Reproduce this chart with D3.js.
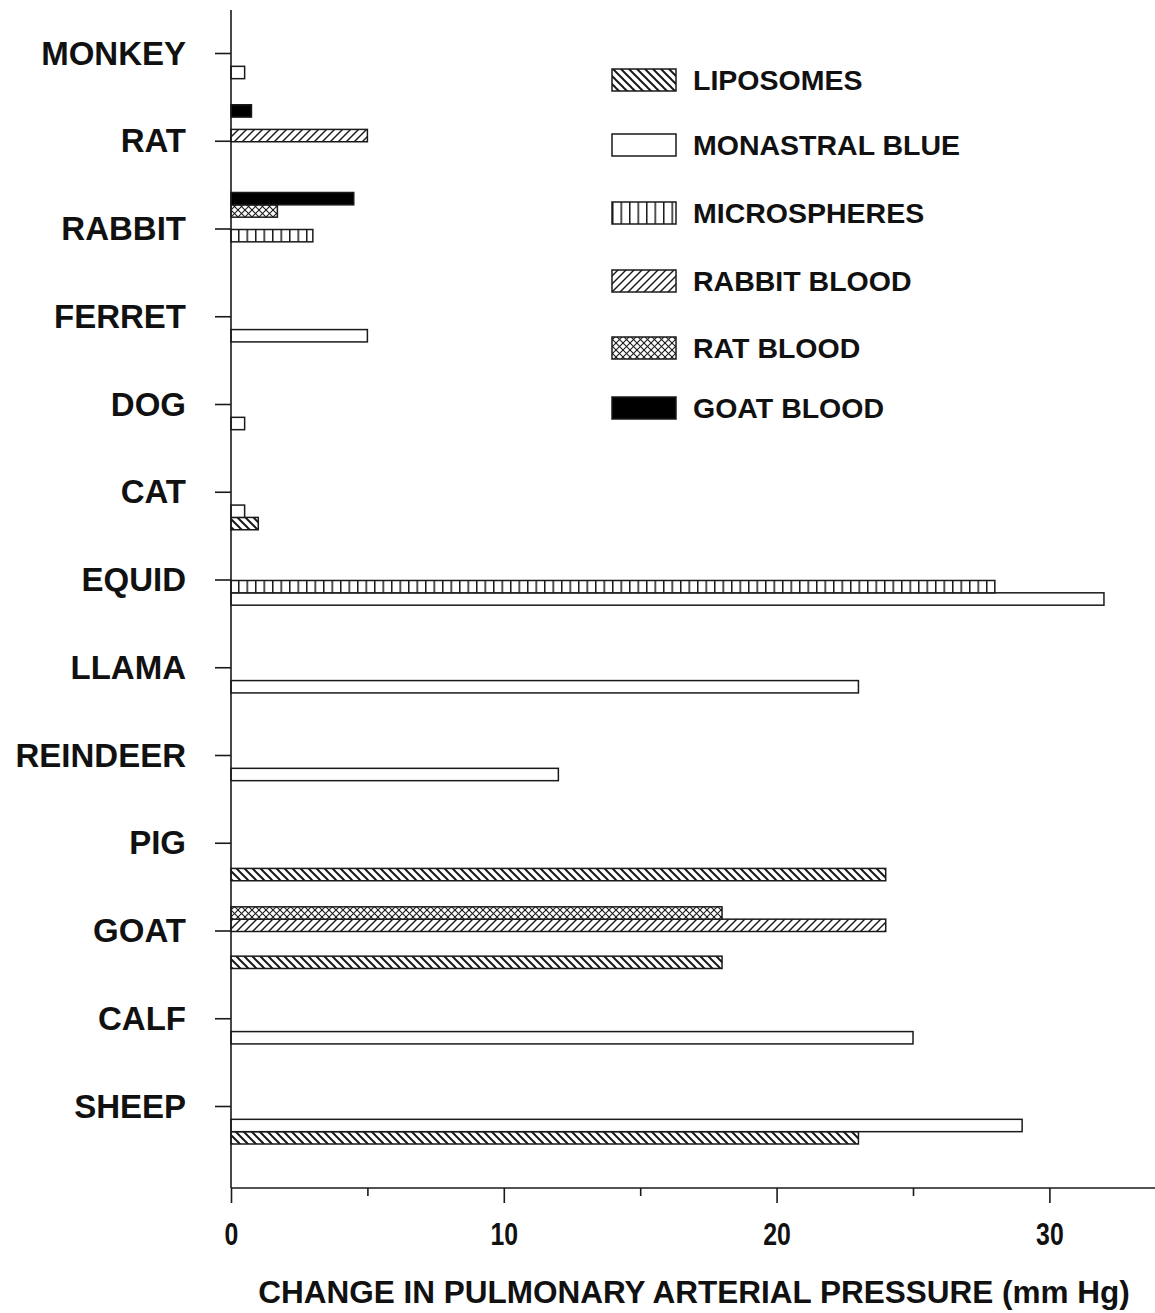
<!DOCTYPE html>
<html>
<head>
<meta charset="utf-8">
<script src="https://cdn.jsdelivr.net/npm/d3@7"></script>
<style>
  html, body { margin: 0; padding: 0; background: #fff; }
  svg { display: block; font-family: "Liberation Sans", Arial, Helvetica, sans-serif; font-weight: bold; }
</style>
</head>
<body>
<svg id="chart" width="1155" height="1313"></svg>
<script>
// ---- data ----
const categories = ["MONKEY","RAT","RABBIT","FERRET","DOG","CAT","EQUID","LLAMA","REINDEER","PIG","GOAT","CALF","SHEEP"];
const seriesNames = ["LIPOSOMES","MONASTRAL BLUE","MICROSPHERES","RABBIT BLOOD","RAT BLOOD","GOAT BLOOD"];
const liposomes    = [null, null, null, null, null, 1,   null, null, null, 24,   18,   null, 23];
const monastral    = [0.5,  null, null, 5,    0.5,  0.5, 32,   23,   12,   null, null, 25,   29];
const microspheres = [null, null, 3,    null, null, null, 28,  null, null, null, null, null, null];
const rabbitBlood  = [null, 5,    null, null, null, null, null, null, null, null, 24,  null, null];
const ratBlood     = [null, null, 1.7,  null, null, null, null, null, null, null, 18,  null, null];
const goatBlood    = [null, 0.75, 4.5,  null, null, null, null, null, null, null, null, null, null];
const xTicks = [0, 5, 10, 15, 20, 25, 30];
const xTickLabels = ["0", "", "10", "", "20", "", "30"];
const xTitle = "CHANGE IN PULMONARY ARTERIAL PRESSURE (mm Hg)";

const seriesValues = [liposomes, monastral, microspheres, rabbitBlood, ratBlood, goatBlood];
const seriesFill = ["url(#p-lipo)", "#fff", "url(#p-micro)", "url(#p-rabbit)", "url(#p-rat)", "#000"];

const svg = d3.select("#chart");
const ink = "#1a1a1a";

// ---- patterns ----
const defs = svg.append("defs");
function pat(id, w, h, paths, sw) {
  const p = defs.append("pattern").attr("id", id).attr("patternUnits", "userSpaceOnUse")
    .attr("width", w).attr("height", h);
  p.append("rect").attr("width", w).attr("height", h).attr("fill", "#fff");
  paths.forEach(d => p.append("path").attr("d", d).attr("stroke", ink).attr("stroke-width", sw).attr("fill", "none"));
}
pat("p-lipo", 8, 8, ["M0,0L8,8", "M-4,4L4,12", "M4,-4L12,4"], 2);
pat("p-rabbit", 8, 8, ["M0,8L8,0", "M-4,4L4,-4", "M4,12L12,4"], 1.4);
pat("p-micro", 8.5, 10, ["M0.75,0L0.75,10"], 1.5);
pat("p-rat", 7, 7, ["M0,0L7,7", "M0,7L7,0", "M-3.5,3.5L3.5,10.5", "M3.5,-3.5L10.5,3.5", "M-3.5,3.5L3.5,-3.5", "M3.5,10.5L10.5,3.5"], 1.1);

// ---- scales ----
const x = d3.scaleLinear().domain([0, 35]).range([231, 231 + 35 * 27.28]);
const y = d3.scalePoint().domain(categories).range([53, 1106]);
const slot = d3.scaleBand().domain(seriesNames.slice().reverse()).range([-36, 38]).padding(0);

// ---- bars ----
seriesNames.forEach((s, si) => {
  const data = categories.map((c, i) => ({ c, v: seriesValues[si][i] })).filter(d => d.v != null);
  svg.append("g").selectAll("rect").data(data).join("rect")
    .attr("x", x(0))
    .attr("y", d => y(d.c) + slot(s))
    .attr("width", d => x(d.v) - x(0))
    .attr("height", slot.bandwidth())
    .attr("fill", seriesFill[si])
    .attr("stroke", ink)
    .attr("stroke-width", 1.5);
});

// ---- y axis ----
const yAxis = svg.append("g").attr("transform", `translate(${x(0)},0)`)
  .call(d3.axisLeft(y).tickSize(16).tickPadding(29));
yAxis.select(".domain").remove();
yAxis.selectAll("line").attr("stroke", ink).attr("stroke-width", 1.6);
yAxis.selectAll("text").attr("font-size", 33).attr("font-weight", "bold")
  .attr("font-family", "'Liberation Sans', Arial, sans-serif").attr("fill", "#111").attr("dy", "0.34em");
svg.append("line").attr("x1", x(0)).attr("x2", x(0)).attr("y1", 10).attr("y2", 1188)
  .attr("stroke", ink).attr("stroke-width", 1.6);

// ---- x axis ----
const xAxis = svg.append("g").attr("transform", "translate(0,1188)")
  .call(d3.axisBottom(x).tickValues(xTicks).tickSize(15).tickPadding(20)
    .tickFormat((d, i) => xTickLabels[i]));
xAxis.select(".domain").remove();
xAxis.selectAll(".tick line").attr("stroke", ink).attr("stroke-width", 1.6)
  .attr("y2", (d, i) => xTickLabels[i] ? 15 : 8);
xAxis.selectAll("text").attr("font-size", 31).attr("font-weight", "bold")
  .attr("transform", "scale(0.8,1)")
  .attr("font-family", "'Liberation Sans', Arial, sans-serif").attr("fill", "#111");
svg.append("line").attr("x1", x(0)).attr("x2", 1155).attr("y1", 1188).attr("y2", 1188)
  .attr("stroke", ink).attr("stroke-width", 1.6);

svg.append("text").attr("x", 694).attr("y", 1303).attr("text-anchor", "middle")
  .attr("font-size", 31.5).attr("fill", "#111").text(xTitle);

// ---- legend ----
const legendY = [80, 145, 213, 281, 348, 408];
const lg = svg.append("g");
seriesNames.forEach((s, i) => {
  lg.append("rect").attr("x", 612).attr("y", legendY[i] - 11).attr("width", 64).attr("height", 22)
    .attr("fill", seriesFill[i]).attr("stroke", ink).attr("stroke-width", 1.5);
  lg.append("text").attr("x", 693).attr("y", legendY[i]).attr("dy", "0.35em")
    .attr("font-size", 28.5).attr("fill", "#111").text(s);
});
</script>
</body>
</html>
